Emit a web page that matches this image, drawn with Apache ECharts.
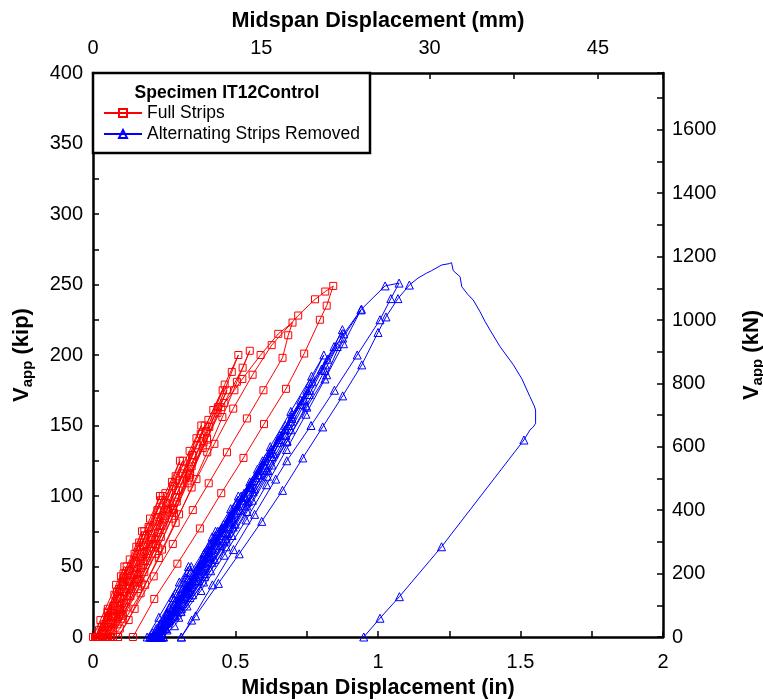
<!DOCTYPE html>
<html>
<head>
<meta charset="utf-8">
<script src="https://cdn.jsdelivr.net/npm/echarts@6/dist/echarts.min.js"></script>
<style>html,body{margin:0;padding:0;background:#fff;overflow:hidden}#c{width:763px;height:700px}</style>
</head>
<body>
<div id="c"></div>
<script>
// ---- Axis ranges / tick labels ----
const xInMax = 2, xInStep = 0.25, xInLabelStep = 0.5;
const KIP_TO_KN = 4.448222, IN_TO_MM = 25.4;
const yKipMax = 400, yKipStep = 25, yKipLabelStep = 50;
const yKnStep = 100, yKnLabelStep = 200;
const xMmStep = 7.5, xMmLabelStep = 15;

// ---- Full Strips: load cycles [disp (in), Vapp (kip)] ----
const redCycle01 = [[0,0],[0.026,12],[0.081,37],[0.11,50],[0.098,43],[0.051,18],[0.008,0]];
const redCycle02 = [[0.008,0],[0.052,20],[0.107,45],[0.118,50],[0.084,32],[0.03,7],[0.01,0]];
const redCycle03 = [[0.01,0],[0.021,5],[0.075,30],[0.129,55],[0.172,75],[0.152,64],[0.105,39],[0.052,14],[0.014,0]];
const redCycle04 = [[0.014,0],[0.052,17],[0.107,42],[0.162,67],[0.18,75],[0.127,47],[0.075,22],[0.018,0]];
const redCycle05 = [[0.018,0],[0.038,9],[0.092,34],[0.146,59],[0.2,84],[0.235,100],[0.195,78],[0.146,53],[0.094,28],[0.033,3],[0.022,0]];
const redCycle06 = [[0.022,0],[0.071,22],[0.127,47],[0.183,72],[0.238,97],[0.245,100],[0.226,90],[0.178,65],[0.126,40],[0.07,15],[0.026,0]];
const redCycle07 = [[0.026,0],[0.086,27],[0.142,52],[0.198,77],[0.254,102],[0.305,125],[0.277,110],[0.229,85],[0.178,60],[0.125,35],[0.064,10],[0.032,0]];
const redCycle08 = [[0.032,0],[0.064,14],[0.12,39],[0.177,64],[0.234,89],[0.29,114],[0.315,125],[0.257,95],[0.206,70],[0.153,45],[0.095,20],[0.036,0]];
const redCycle09 = [[0.036,0],[0.052,7],[0.109,32],[0.167,57],[0.224,82],[0.281,107],[0.339,132],[0.38,150],[0.363,141],[0.314,116],[0.263,91],[0.21,66],[0.154,41],[0.092,16],[0.042,0]];
const redCycle10 = [[0.042,0],[0.086,19],[0.145,44],[0.203,69],[0.261,94],[0.32,119],[0.378,144],[0.392,150],[0.35,129],[0.3,104],[0.247,79],[0.191,54],[0.131,29],[0.062,4],[0.046,0]];
const redCycle11 = [[0.046,0],[0.072,11],[0.13,36],[0.189,61],[0.247,86],[0.305,111],[0.364,136],[0.422,161],[0.455,175],[0.397,146],[0.346,121],[0.294,96],[0.238,71],[0.18,46],[0.117,21],[0.05,0]];
const redCycle12 = [[0.05,0],[0.108,24],[0.168,49],[0.228,74],[0.288,99],[0.348,124],[0.408,149],[0.47,175],[0.437,159],[0.385,134],[0.332,109],[0.277,84],[0.219,59],[0.157,34],[0.086,9],[0.053,0]];
const redCycle13 = [[0.053,0],[0.119,29],[0.176,54],[0.234,79],[0.291,104],[0.348,129],[0.405,154],[0.462,179],[0.51,200],[0.487,188],[0.438,163],[0.388,138],[0.337,113],[0.284,88],[0.229,63],[0.17,38],[0.104,13],[0.06,0]];
const redCycle14 = [[0.06,0],[0.099,16],[0.159,41],[0.219,66],[0.28,91],[0.34,116],[0.4,141],[0.461,166],[0.525,191],[0.55,203],[0.505,181],[0.454,156],[0.401,131],[0.346,106],[0.29,81],[0.231,56],[0.167,31],[0.094,6],[0.07,0]];
const redCycle15 = [[0.07,0],[0.105,15],[0.163,40],[0.222,65],[0.281,90],[0.341,115],[0.4,140],[0.45,163],[0.496,175],[0.524,183],[0.588,200],[0.65,215],[0.70,223],[0.685,214],[0.665,198],[0.598,175],[0.54,155],[0.47,131],[0.406,109],[0.35,90],[0.28,66],[0.213,43],[0.146,20],[0.088,0]];
const redCycle16 = [[0.088,0],[0.125,12],[0.183,37],[0.242,62],[0.302,87],[0.363,112],[0.426,137],[0.492,162],[0.56,186],[0.627,207],[0.72,228],[0.779,239.5],[0.815,245],[0.843,249],[0.82,235],[0.796,225],[0.741,201],[0.677,176],[0.60,151],[0.528,127],[0.45,102],[0.375,77],[0.296,52],[0.215,27],[0.14,0]];

// ---- Alternating Strips Removed: load cycles [disp (in), Vapp (kip)] ----
const blueCycle01 = [[0.19,0],[0.231,14],[0.303,39],[0.335,50],[0.29,31],[0.222,6],[0.2,0]];
const blueCycle02 = [[0.2,0],[0.209,3],[0.281,28],[0.345,50],[0.326,42],[0.261,17],[0.205,0]];
const blueCycle03 = [[0.205,0],[0.268,21],[0.343,46],[0.418,71],[0.43,75],[0.392,60],[0.325,35],[0.25,10],[0.21,0]];
const blueCycle04 = [[0.21,0],[0.237,9],[0.313,34],[0.389,59],[0.438,75],[0.367,48],[0.295,23],[0.212,0]];
const blueCycle05 = [[0.212,0],[0.26,16],[0.334,41],[0.409,66],[0.483,91],[0.51,100],[0.451,77],[0.384,52],[0.312,27],[0.215,0]];
const blueCycle06 = [[0.215,0],[0.23,5],[0.307,30],[0.383,55],[0.459,80],[0.52,100],[0.486,87],[0.419,62],[0.348,37],[0.268,12],[0.218,0]];
const blueCycle07 = [[0.218,0],[0.275,19],[0.351,44],[0.426,69],[0.502,94],[0.577,119],[0.595,125],[0.549,107],[0.482,82],[0.412,57],[0.338,32],[0.252,7],[0.22,0]];
const blueCycle08 = [[0.22,0],[0.254,11],[0.33,36],[0.407,61],[0.484,86],[0.56,111],[0.603,125],[0.534,99],[0.466,74],[0.394,49],[0.316,24],[0.222,0]];
const blueCycle09 = [[0.222,0],[0.304,27],[0.379,52],[0.454,77],[0.53,102],[0.606,127],[0.675,150],[0.649,140],[0.584,115],[0.517,90],[0.446,65],[0.371,40],[0.288,15],[0.225,0]];
const blueCycle10 = [[0.225,0],[0.265,13],[0.341,38],[0.418,63],[0.495,88],[0.571,113],[0.648,138],[0.685,150],[0.606,120],[0.538,95],[0.467,70],[0.392,45],[0.31,20],[0.228,0]];
const blueCycle11 = [[0.228,0],[0.252,8],[0.326,33],[0.401,58],[0.476,83],[0.55,108],[0.625,133],[0.699,158],[0.75,175],[0.694,153],[0.628,128],[0.562,103],[0.492,78],[0.418,53],[0.34,28],[0.23,0]];
const blueCycle12 = [[0.23,0],[0.297,22],[0.372,47],[0.448,72],[0.524,97],[0.599,122],[0.675,147],[0.76,175],[0.742,168],[0.677,143],[0.61,118],[0.54,93],[0.469,68],[0.392,43],[0.309,18],[0.232,0]];
const blueCycle13 = [[0.232,0],[0.261,10],[0.333,35],[0.405,60],[0.478,85],[0.55,110],[0.622,135],[0.694,160],[0.767,185],[0.81,200],[0.761,180],[0.698,155],[0.634,130],[0.567,105],[0.499,80],[0.427,55],[0.35,30],[0.26,5],[0.235,0]];
const blueCycle14 = [[0.235,0],[0.288,18],[0.361,43],[0.435,68],[0.509,93],[0.582,118],[0.656,143],[0.729,168],[0.815,193],[0.857,206],[0.813,189],[0.748,164],[0.681,139],[0.612,114],[0.541,89],[0.467,64],[0.388,39],[0.301,14],[0.238,0]];
const blueCycle15 = [[0.238,0],[0.256,6],[0.329,31],[0.403,56],[0.476,81],[0.55,106],[0.623,131],[0.697,156],[0.77,181],[0.846,206],[0.875,218],[0.823,197],[0.759,172],[0.694,147],[0.628,122],[0.559,97],[0.488,72],[0.413,47],[0.33,22],[0.24,0]];
const blueCycle16 = [[0.24,0],[0.284,15],[0.358,40],[0.432,65],[0.506,90],[0.58,115],[0.654,140],[0.728,165],[0.802,190],[0.88,215],[0.94,232],[0.879,208],[0.814,183],[0.747,158],[0.679,133],[0.609,108],[0.537,83],[0.46,58],[0.379,33],[0.286,8],[0.247,0]];
const blueCycle17 = [[0.247,0],[0.323,28.6],[0.395,50.6],[0.471,73.5],[0.545,96],[0.615,118],[0.68,138.5],[0.75,163],[0.82,186],[0.876,212],[0.942,232.5],[1.025,249],[1.074,251],[1.045,240],[1.007,225],[0.927,200],[0.847,175],[0.765,150],[0.68,125],[0.641,112],[0.567,87],[0.493,62],[0.419,37],[0.346,12],[0.31,0]];
const blueFinalLoad = [[0.31,0],[0.36,15],[0.44,38],[0.513,59],[0.592,82],[0.665,104],[0.736,127],[0.806,149],[0.876,171],[0.943,193],[1.0,216],[1.028,227],[1.07,240],[1.11,249.6]];
// post-peak branch (drawn without markers in the original)
const blueFailure = [[1.14,254.5],[1.17,258],[1.188,259.8],[1.223,263.8],[1.25,264.8],[1.258,265.5],[1.262,264.5],[1.264,259.8],[1.288,255.5],[1.294,248.4],[1.315,243],[1.334,239],[1.358,230.7],[1.375,224],[1.393,217.7],[1.428,206],[1.475,193],[1.505,183],[1.533,170.5],[1.548,164],[1.553,161],[1.553,151.6],[1.545,149],[1.533,146.8]];
const blueFinalUnload = [[1.512,139.7],[1.223,64],[1.075,28.6],[1.007,13.3],[0.95,0]];

const redCycles = [redCycle01,redCycle02,redCycle03,redCycle04,redCycle05,redCycle06,redCycle07,redCycle08,redCycle09,redCycle10,redCycle11,redCycle12,redCycle13,redCycle14,redCycle15,redCycle16];
const blueCycles = [blueCycle01,blueCycle02,blueCycle03,blueCycle04,blueCycle05,blueCycle06,blueCycle07,blueCycle08,blueCycle09,blueCycle10,blueCycle11,blueCycle12,blueCycle13,blueCycle14,blueCycle15,blueCycle16,blueCycle17];

const redData = [].concat(...redCycles);
const blueData = [].concat(...blueCycles, blueFinalLoad)
  .concat(blueFailure.map(p => ({value: p, symbol: 'none'})))
  .concat(blueFinalUnload);

const FONT = '"Liberation Sans", Arial, sans-serif';
const mult = step => v => (Math.abs(v / step - Math.round(v / step)) < 1e-6 ? String(+v.toFixed(3)) : '');

const axisLine = {show: true, onZero: false, lineStyle: {color: '#000', width: 2.5}};
const axisTick = {show: true, inside: true, length: 6, lineStyle: {color: '#000', width: 1.5}};
const labelStyle = {color: '#000', fontSize: 20, fontFamily: FONT};
const nameStyle = {color: '#000', fontSize: 21.6, fontWeight: 'bold', fontFamily: FONT};
const vNameRich = {
  v: {fontSize: 22, fontWeight: 'bold', fontFamily: FONT, color: '#000', lineHeight: 26},
  s: {fontSize: 15, fontWeight: 'bold', fontFamily: FONT, color: '#000', lineHeight: 15, verticalAlign: 'bottom', padding: [9, 0, 0, 0]}
};

const chart = echarts.init(document.getElementById('c'), null, {renderer: 'canvas'});
chart.setOption({
  animation: false,
  backgroundColor: '#fff',
  textStyle: {fontFamily: FONT},
  grid: {left: 93, right: 100, top: 73, bottom: 63, containLabel: false, outerBoundsMode: 'none'},
  xAxis: [
    {type: 'value', position: 'bottom', min: 0, max: xInMax, interval: xInStep,
     axisLine, axisTick, splitLine: {show: false},
     axisLabel: Object.assign({formatter: mult(xInLabelStep), margin: 15}, labelStyle),
     name: 'Midspan Displacement (in)', nameLocation: 'middle', nameGap: 40, nameTextStyle: nameStyle},
    {type: 'value', position: 'top', min: 0, max: xInMax * IN_TO_MM, interval: xMmStep,
     axisLine, axisTick, splitLine: {show: false},
     axisLabel: Object.assign({formatter: mult(xMmLabelStep), margin: 15}, labelStyle),
     name: 'Midspan Displacement (mm)', nameLocation: 'middle', nameGap: 41, nameTextStyle: nameStyle}
  ],
  yAxis: [
    {type: 'value', position: 'left', min: 0, max: yKipMax, interval: yKipStep,
     axisLine, axisTick, splitLine: {show: false},
     axisLabel: Object.assign({formatter: mult(yKipLabelStep), margin: 10}, labelStyle),
     name: '{v|V}{s|app}{v| (kip)}', nameLocation: 'middle', nameRotate: 90, nameGap: 58,
     nameTextStyle: {rich: vNameRich}},
    {type: 'value', position: 'right', min: 0, max: yKipMax * KIP_TO_KN, interval: yKnStep,
     axisLine, axisTick, splitLine: {show: false},
     axisLabel: Object.assign({formatter: mult(yKnLabelStep), margin: 9}, labelStyle),
     name: '{v|V}{s|app}{v| (kN)}', nameLocation: 'middle', nameRotate: 90, nameGap: 76,
     nameTextStyle: {rich: vNameRich}}
  ],
  legend: {
    orient: 'vertical', left: 103, top: 104, padding: 0, itemWidth: 38, itemHeight: 10, itemGap: 3,
    textStyle: {fontSize: 17.5, color: '#000', fontFamily: FONT},
    data: ['Full Strips', 'Alternating Strips Removed'], z: 6
  },
  graphic: [
    {type: 'rect', z: 5, shape: {x: 93, y: 73, width: 277, height: 80},
     style: {fill: '#fff', stroke: '#000', lineWidth: 2.5}},
    {type: 'text', z: 6, x: 227, y: 93,
     style: {text: 'Specimen IT12Control', fill: '#000', font: 'bold 17.5px ' + FONT, textAlign: 'center', textVerticalAlign: 'middle'}}
  ],
  series: [
    {name: 'Full Strips', type: 'line', xAxisIndex: 0, yAxisIndex: 0, data: redData,
     symbol: 'rect', symbolSize: 7, showAllSymbol: true,
     lineStyle: {color: '#ff0000', width: 1},
     itemStyle: {color: 'rgba(255,255,255,0)', borderColor: '#ff0000', borderWidth: 1}},
    {name: 'Alternating Strips Removed', type: 'line', xAxisIndex: 0, yAxisIndex: 0, data: blueData,
     symbol: 'triangle', symbolSize: 8, showAllSymbol: true,
     lineStyle: {color: '#0000ff', width: 1},
     itemStyle: {color: 'rgba(255,255,255,0)', borderColor: '#0000ff', borderWidth: 1}}
  ]
});
</script>
</body>
</html>
